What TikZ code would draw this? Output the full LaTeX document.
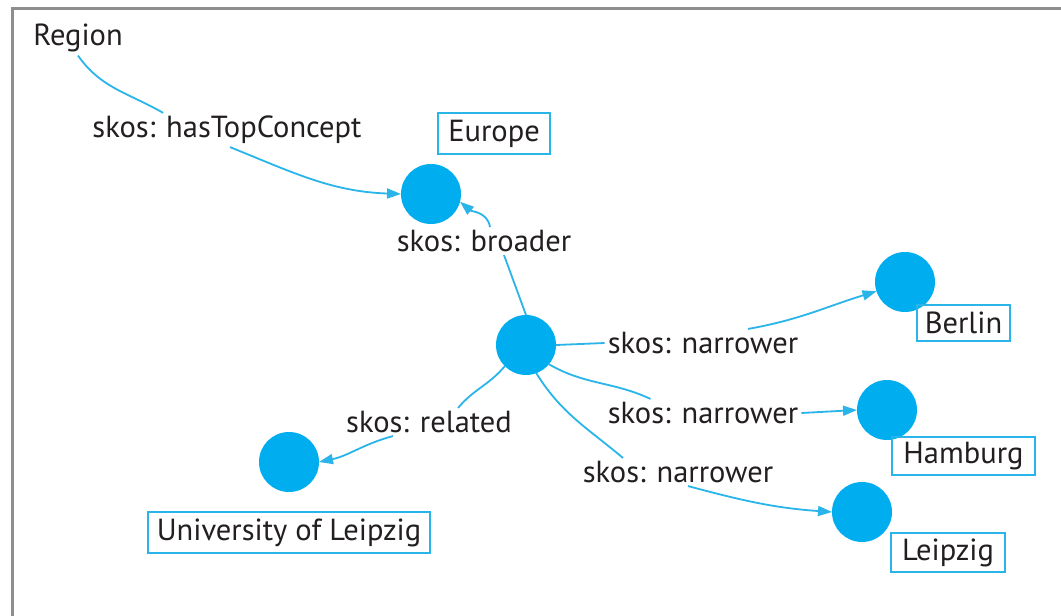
\documentclass[tikz,border=0pt]{standalone}
\usepackage{fontspec}
\setmainfont{PT Sans}
\usetikzlibrary{arrows.meta}
\definecolor{cy}{HTML}{00AEEF}
\definecolor{cyl}{HTML}{29B4EA}
\definecolor{txt}{HTML}{231F20}
\definecolor{frame}{HTML}{8E8E8E}
\begin{document}
\begin{tikzpicture}[x=1pt,y=-1pt,
  every node/.style={font=\fontsize{30.5}{36}\selectfont, text=txt},
  concept/.style={circle, fill=cy, minimum size=60pt, inner sep=0pt, outer sep=0pt},
  namebox/.style={draw=cyl, line width=1.8pt, minimum height=38pt, inner sep=0pt},
  rel/.style={inner sep=3pt},
  link/.style={draw=cyl, line width=1.8pt},
  arr/.style={link, -{Triangle[length=14pt,width=10pt]}}
]
\useasboundingbox (0,0) rectangle (1061,616);
\fill[white] (0,0) rectangle (1061,616);
\draw[frame, line width=3pt] (1061,8) -- (12,8) -- (12,616);

% concepts
\node (region) at (78,38) {Region};
\node[concept] (eu) at (431,194) {};
\node[concept] (c) at (526,345) {};
\node[concept] (be) at (905,282) {};
\node[concept] (ha) at (887,410) {};
\node[concept] (le) at (862,512) {};
\node[concept] (un) at (289,462) {};

% name boxes
\node[namebox, minimum width=112pt, minimum height=41pt] (eulbl) at (494,133.5) {Europe};
\node[namebox, minimum width=93pt, minimum height=36pt] (belbl) at (963.5,323) {Berlin};
\node[namebox, minimum width=143pt] (halbl) at (963.5,456) {Hamburg};
\node[namebox, minimum width=114pt, minimum height=39pt] (lelbl) at (948,552.5) {Leipzig};
\node[namebox, minimum width=282pt, minimum height=41pt] (unlbl) at (289,532.5) {University of Leipzig};

% relation labels
\node[rel] (lTop) at (227,130) {skos: hasTopConcept};
\node[rel] (lBro) at (484,241) {skos: broader};
\node[rel] (lN1) at (703,343) {skos: narrower};
\node[rel] (lN2) at (703,413) {skos: narrower};
\node[rel] (lN3) at (678,472) {skos: narrower};
\node[rel] (lRel) at (429,422) {skos: related};

% connectors
\draw[link] (region.south) to[out=-55, in=150] (lTop.165);
\draw[arr] (lTop.-80) to[out=-22, in=178] (eu.west);

\draw[link] (c.north) -- ([xshift=20pt]lBro.south);
\draw[arr] ([xshift=6pt]lBro.north) to[out=100, in=-40] (eu.-15);

\draw[link] (c.east) -- (lN1.west);
\draw[arr] ([xshift=45pt]lN1.north) to[out=10, in=197] (be.198);

\draw[link] (c.-40) to[out=-30, in=155] (lN2.165);
\draw[arr] (lN2.east) -- (ha.west);

\draw[link] (c.-70) to[out=-58, in=140] ([xshift=-55pt]lN3.north);
\draw[arr] ([xshift=10pt]lN3.south) to[out=-15, in=176] (le.west);

\draw[link] (c.-135) to[out=-130, in=50] ([xshift=29pt]lRel.north);
\draw[arr] ([xshift=-36pt]lRel.south) to[out=-165, in=12] (un.east);
\end{tikzpicture}
\end{document}
